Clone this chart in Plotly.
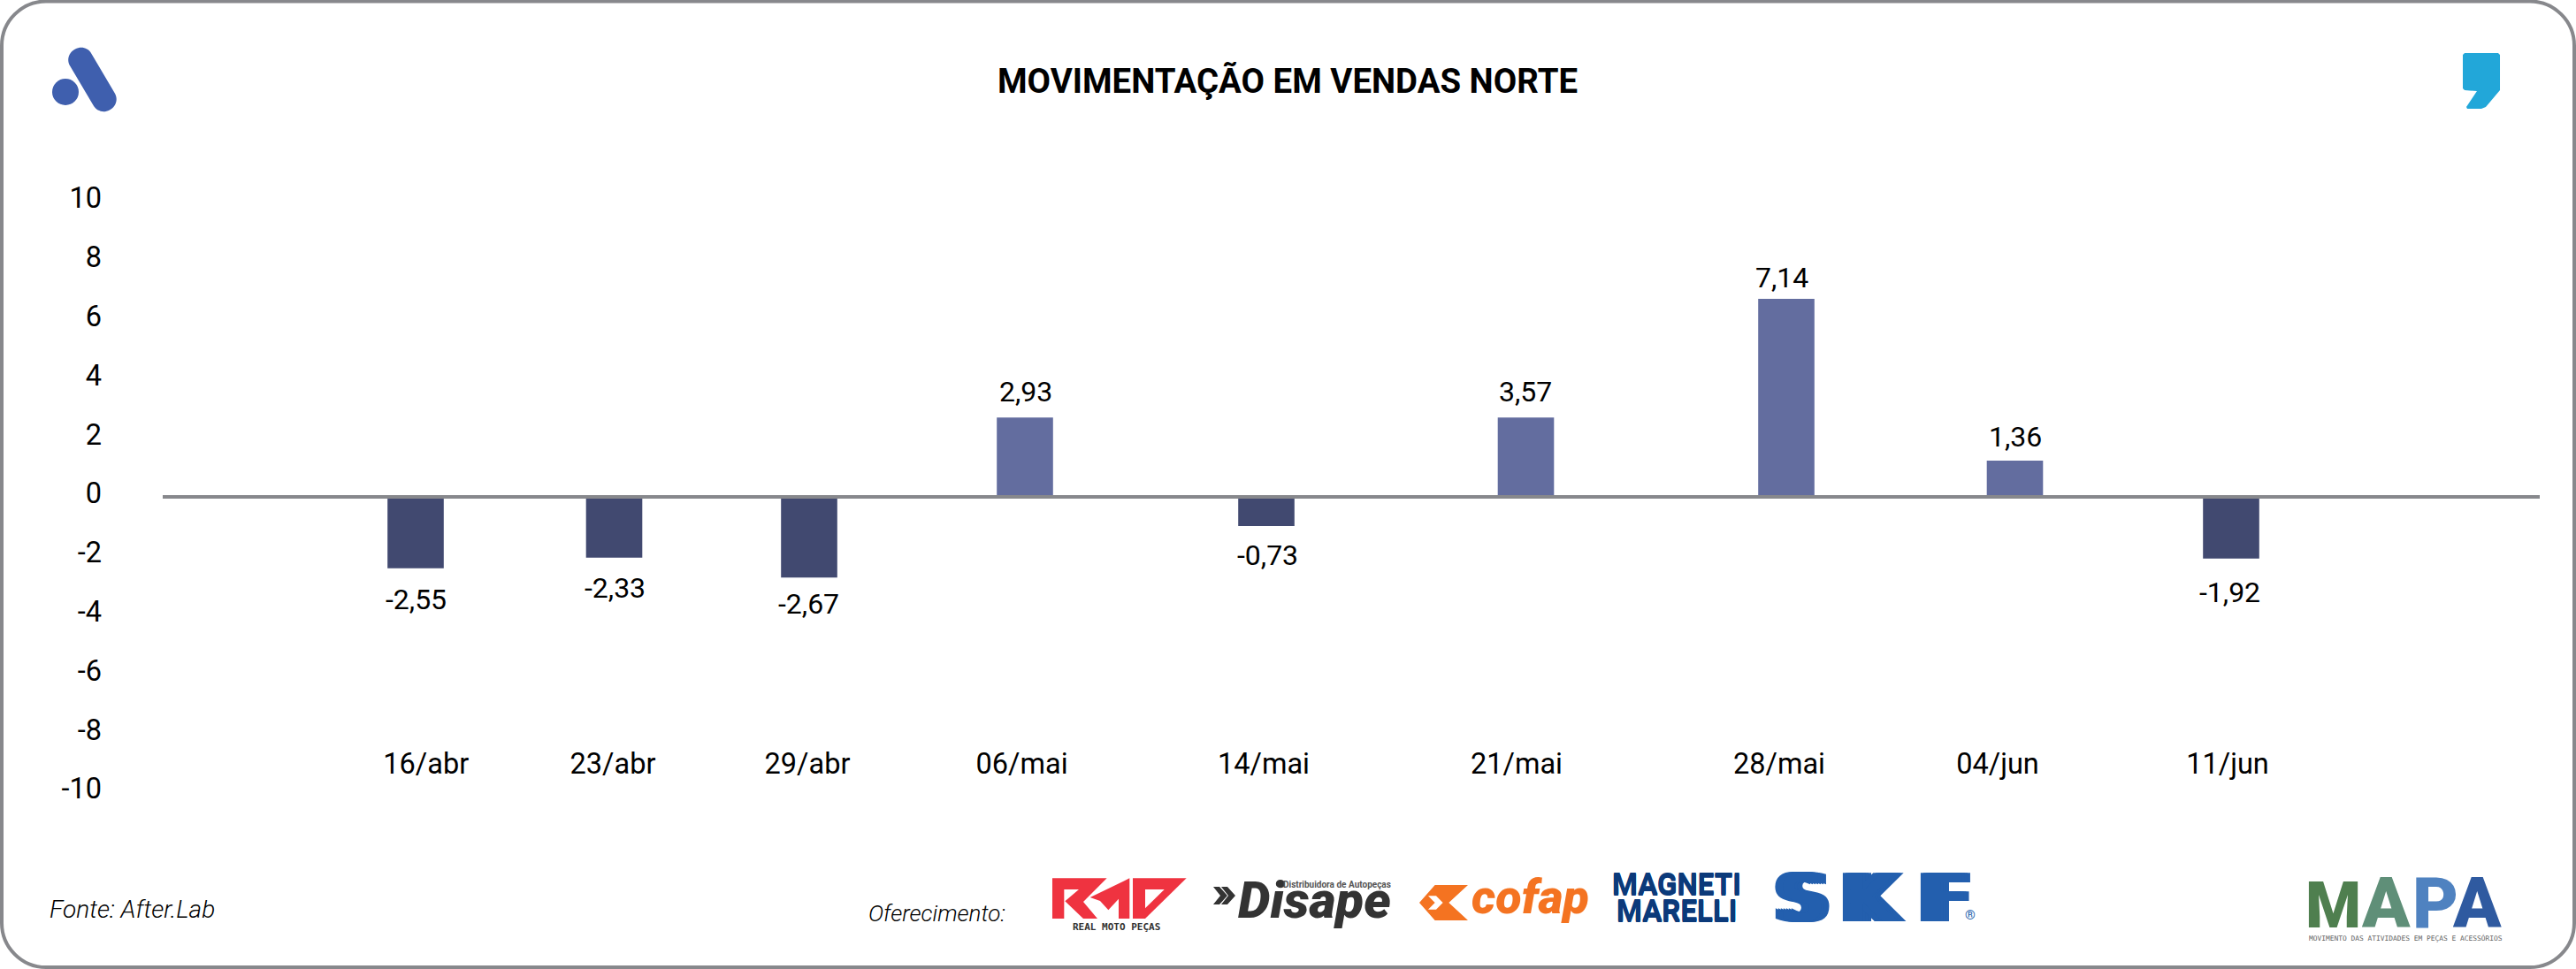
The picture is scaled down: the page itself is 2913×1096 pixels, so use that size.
import plotly.graph_objects as go

# ---------- data ----------
date_labels = ["16/abr", "23/abr", "29/abr", "06/mai", "14/mai", "21/mai", "28/mai", "04/jun", "11/jun"]
printed_values = [-2.55, -2.33, -2.67, 2.93, -0.73, 3.57, 7.14, 1.36, -1.92]
drawn_heights = [-2.42, -2.06, -2.73, 2.69, -0.99, 2.69, 6.71, 1.23, -2.09]
bar_slots = [470, 694.5, 915, 1159, 1432, 1725.5, 2020, 2278.5, 2523]
date_slots = [481.7, 693, 913, 1155.6, 1429, 1715, 2012, 2259, 2519]
label_slots = [470.7, 695.7, 914, 1159.6, 1433, 1724.5, 2015, 2279, 2521]
label_levels = [-3.47, -3.08, -3.62, 3.56, -1.98, 3.56, 7.43, 2.05, -3.24]
y_ticks = [10, 8, 6, 4, 2, 0, -2, -4, -6, -8, -10]

TITLE = "MOVIMENTAÇÃO EM VENDAS NORTE"
W, H = 2913, 1096
FONT = "Roboto"
POS, NEG, GREY = "#636d9f", "#414970", "#87888c"


def X(p):
    return p / W


def Y(p):
    return 1 - p / H


def path(points, close=True):
    s = "M " + " L ".join(f"{X(a):.5f},{Y(b):.5f}" for a, b in points)
    return s + (" Z" if close else "")


def poly(points, color):
    return dict(type="path", xref="paper", yref="paper", path=path(points),
                fillcolor=color, line=dict(width=0), layer="above")


def note(text, x, y, size, color="#000000", family=FONT, anchor="center", **font):
    return dict(text=text, xref="paper", yref="paper", x=X(x), y=Y(y), showarrow=False,
                xanchor=anchor, yanchor="middle", font=dict(size=size, color=color, family=family, **font))


fig = go.Figure(go.Bar(
    x=bar_slots, y=drawn_heights, width=63.6,
    marker=dict(color=[POS if v > 0 else NEG for v in drawn_heights], line=dict(width=0)),
    hoverinfo="skip",
))

shapes = []
# card border
r = 50
l, t, rr, b = 2, 1.5, 2911, 1094
k = r * 0.45
shapes.append(dict(
    type="path", xref="paper", yref="paper", layer="below", line=dict(color=GREY, width=4), fillcolor="white",
    path=(f"M {X(l+r)},{Y(t)} L {X(rr-r)},{Y(t)} C {X(rr-k)},{Y(t)} {X(rr)},{Y(t+k)} {X(rr)},{Y(t+r)} "
          f"L {X(rr)},{Y(b-r)} C {X(rr)},{Y(b-k)} {X(rr-k)},{Y(b)} {X(rr-r)},{Y(b)} "
          f"L {X(l+r)},{Y(b)} C {X(l+k)},{Y(b)} {X(l)},{Y(b-k)} {X(l)},{Y(b-r)} "
          f"L {X(l)},{Y(t+r)} C {X(l)},{Y(t+k)} {X(l+k)},{Y(t)} {X(l+r)},{Y(t)} Z")))
# zero line above the bars
shapes.append(dict(type="line", xref="x domain", yref="y", x0=0, x1=1, y0=0, y1=0,
                   line=dict(color=GREY, width=4), layer="above"))

# After.Lab mark: dot + capsule
BLUE = "#3f5fae"
shapes.append(dict(type="circle", xref="paper", yref="paper", x0=X(59), x1=X(89), y0=Y(119), y1=Y(89),
                   fillcolor=BLUE, line=dict(width=0)))
cap = dict(ax=91.5, ay=68, bx=117.5, by=112, r=14)
dx, dy = cap["bx"] - cap["ax"], cap["by"] - cap["ay"]
n = (dx * dx + dy * dy) ** 0.5
ux, uy = dx / n, dy / n
nx, ny = -uy * cap["r"], ux * cap["r"]
ex, ey = ux * cap["r"] * 1.33, uy * cap["r"] * 1.33
a1 = (cap["ax"] + nx, cap["ay"] + ny)
a2 = (cap["ax"] - nx, cap["ay"] - ny)
b1 = (cap["bx"] + nx, cap["by"] + ny)
b2 = (cap["bx"] - nx, cap["by"] - ny)
shapes.append(dict(
    type="path", xref="paper", yref="paper", fillcolor=BLUE, line=dict(width=0),
    path=(f"M {X(a1[0])},{Y(a1[1])} L {X(b1[0])},{Y(b1[1])} "
          f"C {X(b1[0]+ex)},{Y(b1[1]+ey)} {X(b2[0]+ex)},{Y(b2[1]+ey)} {X(b2[0])},{Y(b2[1])} "
          f"L {X(a2[0])},{Y(a2[1])} "
          f"C {X(a2[0]-ex)},{Y(a2[1]-ey)} {X(a1[0]-ex)},{Y(a1[1]-ey)} {X(a1[0])},{Y(a1[1])} Z")))

# comma mark
shapes.append(poly([(2787, 60), (2825, 60), (2827, 62), (2827, 102), (2811, 121), (2806, 123), (2790, 123),
                    (2789, 121), (2801, 103), (2787, 102), (2785, 100), (2785, 62)], "#22a7d9"))


# RMP mark (zoom coordinates: px = 1170 + u/3, py = 970 + v/3)
def rmp(pts):
    return [(1170 + u / 3, 970 + v / 3) for u, v in pts]


RED = "#ef3340"
shapes.append(poly(rmp([(60, 70), (245, 70), (165, 150), (213, 207), (165, 207), (103, 148), (150, 108),
                        (100, 108), (100, 207), (60, 207)]), RED))
shapes.append(poly(rmp([(188, 135), (322, 70), (322, 207), (285, 207), (285, 140), (250, 178), (222, 147)]), RED))
shapes.append(poly(rmp([(333, 70), (515, 70), (375, 207), (333, 207)]), RED))
shapes.append(poly(rmp([(375, 108), (440, 108), (375, 172)]), "#ffffff"))
# Disape chevrons
for off in (0, 9):
    shapes.append(poly([(1372 + off, 1003), (1379 + off, 1003), (1388 + off, 1013), (1379 + off, 1023),
                        (1372 + off, 1023), (1380 + off, 1013)], "#333333"))
# cofap mark
OR = "#f47321"
shapes.append(poly(rmp([(1358, 93), (1470, 93), (1405, 153), (1470, 213), (1358, 213), (1305, 153)]), OR))
shapes.append(poly(rmp([(1335, 130), (1362, 130), (1385, 153), (1362, 176), (1335, 176), (1358, 153)]), "#ffffff"))

MM = "#0b3a7a"
mm_shadow = f"0 -1px 0 {MM},0 1px 0 {MM}"
SK = "#235fae"
sk_shadow = ",".join(f"{d}px 0 0 {SK}" for d in (-9, -6, -3, 3, 6, 9))

annotations = [
    note(TITLE, 1456, 92, 38.4, weight="bold"),
    note("Fonte: After.Lab", 54, 1028, 28, anchor="left", style="italic", weight=300),
    note("Oferecimento:", 980, 1033, 26, anchor="left", style="italic", weight=300),
    note("REAL MOTO PEÇAS", 1262.5, 1048, 11, "#333333", "DejaVu Sans Mono", weight="bold"),
    note("Disape", 1486, 1018, 58, "#333333", FONT, weight=900, style="italic"),
    note("Distribuidora de Autopeças", 1512, 1000, 10, "#555555", FONT, weight="bold"),
    note("cofap", 1730, 1014, 54, OR, FONT, weight=900, style="italic"),
    note("MAGNETI", 1896, 1000, 33, MM, FONT, weight="bold", shadow=mm_shadow),
    note("MARELLI", 1896, 1030, 33, MM, FONT, weight="bold", shadow=mm_shadow),
    note("®", 2228, 1035, 15, SK, FONT),
    note("MOVIMENTO DAS ATIVIDADES EM PEÇAS E ACESSÓRIOS", 2720, 1061, 7.9, "#666666", "DejaVu Sans Mono"),
]
for ch, cx in zip("SKF", (2038, 2116, 2199)):
    annotations.append(note(ch, cx, 1016, 75, SK, "DejaVu Sans", weight="bold", shadow=sk_shadow))
for ch, cx, size, col in zip("MAPA", (2638, 2698, 2754, 2801), (72, 80, 80, 80),
                             ("#4f7f4f", "#5f8f78", "#4f82c0", "#2f5aa0")):
    annotations.append(note(ch, cx, 1049 - 0.34 * size, size, col, FONT, weight=900))

for v, lx, ly in zip(printed_values, label_slots, label_levels):
    annotations.append(dict(text=f"{v:.2f}".replace(".", ","), xref="x", yref="y", x=lx, y=ly,
                            showarrow=False, xanchor="center", yanchor="middle",
                            font=dict(size=32, color="#000000", family=FONT, weight=400)))

fig.update_layout(
    width=W, height=H, margin=dict(l=0, r=0, t=0, b=0, pad=0, autoexpand=False), autosize=False,
    paper_bgcolor="white", plot_bgcolor="rgba(0,0,0,0)", showlegend=False,
    shapes=shapes, annotations=annotations,
    xaxis=dict(domain=[X(184), X(2872)], range=[184, 2872], anchor="free", position=Y(841), automargin=False,
               tickvals=date_slots, ticktext=date_labels, ticks="", showgrid=False, zeroline=False, showline=False,
               tickfont=dict(size=32.5, color="#000000", family=FONT, weight=400)),
    yaxis=dict(domain=[Y(896), Y(228)], range=[-10, 10], tickvals=y_ticks, ticktext=[str(v) for v in y_ticks],
               automargin=False, ticks="", showgrid=False, zeroline=False, showline=False,
               ticklabelstandoff=68, ticklabelshift=-4,
               tickfont=dict(size=32.5, color="#000000", family=FONT, weight=400)),
)

fig.write_html("out.html", post_script="document.body.style.margin='0';document.body.style.overflow='hidden';",
               config={"displayModeBar": False})
